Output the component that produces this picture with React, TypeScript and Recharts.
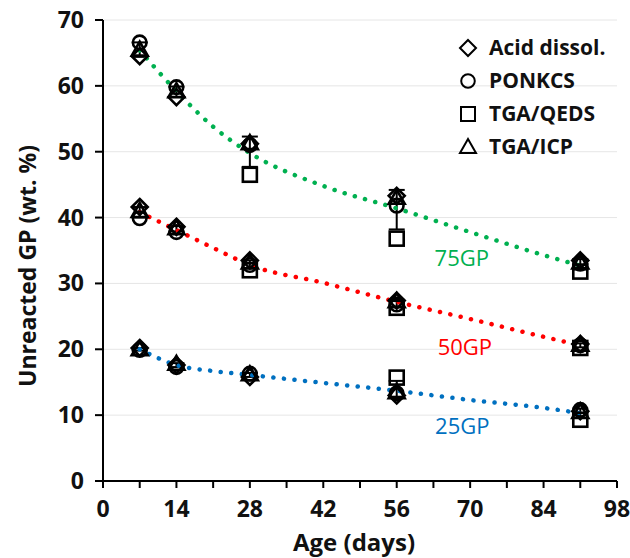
import React from "react";
import {
  ComposedChart,
  Scatter,
  Line,
  XAxis,
  YAxis,
  CartesianGrid,
  ErrorBar,
  ReferenceDot,
} from "recharts";

// sampling ages (days)
const ages = [7, 14, 28, 56, 91];

// measured unreacted GP (wt. %), null = not measured
const acid75 = [64.5, 58.3, 51.2, 43.3, 33.5];
const ponkcs75 = [66.6, 59.8, 51.0, 41.8, 33.0];
const qeds75 = [null, null, 46.5, 36.8, 31.8];
const icp75 = [65.5, 59.2, 51.3, 43.0, 33.2];

const acid50 = [41.6, 38.6, 33.5, 27.4, 20.8];
const ponkcs50 = [39.9, 37.8, 32.8, 26.8, 20.6];
const qeds50 = [null, null, 32.0, 26.3, 20.2];
const icp50 = [41.0, 38.4, 33.2, 27.3, 20.7];

const acid25 = [20.2, 17.6, 15.8, 13.0, 10.6];
const ponkcs25 = [19.9, 17.3, 16.3, 13.3, 10.8];
const qeds25 = [null, null, null, 15.7, 9.3];
const icp25 = [20.0, 17.8, 16.2, 13.5, 10.5];

// mean and standard deviation per age
const mean75 = [65.5, 59.1, 50.0, 41.2, 32.9];
const sd75 = [1.1, 0.8, 2.3, 3.0, 0.8];
const mean50 = [40.8, 38.3, 32.9, 27.0, 20.6];
const sd50 = [0.8, 0.4, 0.6, 0.5, 0.3];
const mean25 = [20.0, 17.6, 16.1, 14.0, 10.3];
const sd25 = [0.2, 0.3, 0.3, 1.2, 0.7];

// fitted trend curves
const trendAges = [7, 14, 21, 28, 42, 56, 70, 84, 91];
const trend75 = [65.4, 59.2, 53.8, 49.8, 44.8, 41.4, 37.8, 34.3, 32.7];
const trend50 = [40.8, 38.1, 35.4, 32.8, 30.1, 27.2, 24.6, 21.9, 20.6];
const trend25 = [20.0, 17.6, 16.7, 16.1, 14.9, 13.7, 12.3, 11.1, 10.3];

const xTicks = [0, 7, 14, 21, 28, 35, 42, 49, 56, 63, 70, 77, 84, 91, 98];
const yTicks = [0, 10, 20, 30, 40, 50, 60, 70];

const methods = ["Acid dissol.", "PONKCS", "TGA/QEDS", "TGA/ICP"];

const FONT = "'Open Sans', sans-serif";
const INK = "#111";

const toPoints = (xs: number[], ys: (number | null)[]) =>
  xs
    .map((x, i) => ({ x, y: ys[i] }))
    .filter((p) => p.y !== null);

const withErr = (means: number[], sds: number[]) =>
  ages.map((x, i) => ({ x, y: means[i], err: sds[i] }));

type MarkProps = { cx?: number; cy?: number; sw?: number };

const Diamond = ({ cx = 0, cy = 0, sw = 2.6 }: MarkProps) => (
  <path
    d={`M${cx},${cy - 8} L${cx + 8},${cy} L${cx},${cy + 8} L${cx - 8},${cy} Z`}
    fill="none"
    stroke="#000"
    strokeWidth={sw}
  />
);
const Circ = ({ cx = 0, cy = 0, sw = 2.6 }: MarkProps) => (
  <circle cx={cx} cy={cy} r={6.8} fill="none" stroke="#000" strokeWidth={sw} />
);
const Sq = ({ cx = 0, cy = 0, sw = 2.6 }: MarkProps) => (
  <rect x={cx - 7} y={cy - 7} width={14} height={14} fill="none" stroke="#000" strokeWidth={sw} />
);
const Tri = ({ cx = 0, cy = 0, sw = 2.6 }: MarkProps) => (
  <path
    d={`M${cx},${cy - 8} L${cx + 8},${cy + 6} L${cx - 8},${cy + 6} Z`}
    fill="none"
    stroke="#000"
    strokeWidth={sw}
  />
);
const Nothing = () => <g />;

const shapes = [Diamond, Circ, Sq, Tri];

// legend sits over the top-right corner of the plot
const LegendBox = () => (
  <div
    style={{
      position: "absolute",
      left: 457,
      top: 31,
      fontFamily: FONT,
      fontWeight: 700,
      fontSize: 21,
      color: INK,
      lineHeight: "33px",
    }}
  >
    {methods.map((m, i) => {
      const Mark = shapes[i];
      return (
        <div key={m} style={{ display: "flex", alignItems: "center", height: 33 }}>
          <svg width={22} height={22} style={{ marginRight: 10 }}>
            <Mark cx={11} cy={11} sw={2} />
          </svg>
          <span>{m}</span>
        </div>
      );
    })}
  </div>
);

const XTick = ({ x, y, payload }: any) =>
  payload.value % 14 === 0 ? (
    <text x={x} y={y + 27} textAnchor="middle" fontFamily={FONT} fontWeight={700} fontSize={23} fill={INK}>
      {payload.value}
    </text>
  ) : null;

const YTick = ({ x, y, payload }: any) => (
  <text x={x - 9} y={y + 8} textAnchor="end" fontFamily={FONT} fontWeight={700} fontSize={23} fill={INK}>
    {payload.value}
  </text>
);

const SeriesLabel = ({ viewBox, text, color }: any) => (
  <text
    x={viewBox.x}
    y={viewBox.y + 8}
    textAnchor="middle"
    fontFamily={FONT}
    fontSize={22}
    fill={color}
  >
    {text}
  </text>
);

const trendLine = (data: any[], color: string, key: string) => (
  <Line
    key={key}
    data={data}
    dataKey="y"
    type="monotone"
    stroke={color}
    strokeWidth={4.5}
    strokeDasharray="0.1 10.5"
    strokeLinecap="round"
    dot={false}
    activeDot={false}
    isAnimationActive={false}
    legendType="none"
  />
);

const groups = [
  [acid75, ponkcs75, qeds75, icp75],
  [acid50, ponkcs50, qeds50, icp50],
  [acid25, ponkcs25, qeds25, icp25],
];

export default function App() {
  return (
    <div style={{ position: "absolute", left: 0, top: 0, width: 630, height: 558, background: "#fff" }}>
      <ComposedChart
        width={630}
        height={558}
        margin={{ top: 20, right: 13, bottom: 37, left: 43 }}
      >
        <CartesianGrid horizontal vertical={false} stroke="#e6e6e6" strokeWidth={1} />
        <XAxis
          dataKey="x"
          type="number"
          domain={[0, 98]}
          ticks={xTicks}
          interval={0}
          tick={<XTick />}
          tickSize={7}
          stroke="#000"
          strokeWidth={2}
          height={40}
          allowDataOverflow
          label={{
            content: () => (
              <text x={354} y={551} textAnchor="middle" fontFamily={FONT} fontWeight={700} fontSize={24} fill={INK}>
                Age (days)
              </text>
            ),
          }}
        />
        <YAxis
          type="number"
          domain={[0, 70]}
          ticks={yTicks}
          interval={0}
          tick={<YTick />}
          tickSize={8}
          stroke="#000"
          strokeWidth={2}
          width={60}
          allowDataOverflow
          label={{
            content: () => (
              <text
                x={27}
                y={266}
                transform="rotate(-90 27 266)"
                textAnchor="middle"
                dominantBaseline="central"
                fontFamily={FONT}
                fontWeight={700}
                fontSize={23}
                fill={INK}
              >
                Unreacted GP (wt. %)
              </text>
            ),
          }}
        />

        {groups.flatMap((g, gi) =>
          g.map((vals, mi) => (
            <Scatter
              key={`s-${gi}-${mi}`}
              data={toPoints(ages, vals)}
              dataKey="y"
              shape={shapes[mi]}
              isAnimationActive={false}
              legendType="none"
            />
          ))
        )}

        <Scatter data={withErr(mean75, sd75)} dataKey="y" shape={Nothing} isAnimationActive={false} legendType="none">
          <ErrorBar dataKey="err" direction="y" width={8} stroke="#000" strokeWidth={2} />
        </Scatter>
        <Scatter data={withErr(mean50, sd50)} dataKey="y" shape={Nothing} isAnimationActive={false} legendType="none">
          <ErrorBar dataKey="err" direction="y" width={8} stroke="#000" strokeWidth={2} />
        </Scatter>
        <Scatter data={withErr(mean25, sd25)} dataKey="y" shape={Nothing} isAnimationActive={false} legendType="none">
          <ErrorBar dataKey="err" direction="y" width={8} stroke="#000" strokeWidth={2} />
        </Scatter>

        {trendLine(toPoints(trendAges, trend75), "#00B050", "t75")}
        {trendLine(toPoints(trendAges, trend50), "#FF0000", "t50")}
        {trendLine(toPoints(trendAges, trend25), "#0070C0", "t25")}

        <ReferenceDot x={68.4} y={33.8} r={0} label={<SeriesLabel text="75GP" color="#00B050" />} />
        <ReferenceDot x={69.0} y={20.4} r={0} label={<SeriesLabel text="50GP" color="#FF0000" />} />
        <ReferenceDot x={68.5} y={8.3} r={0} label={<SeriesLabel text="25GP" color="#0070C0" />} />
      </ComposedChart>
      <LegendBox />
    </div>
  );
}
